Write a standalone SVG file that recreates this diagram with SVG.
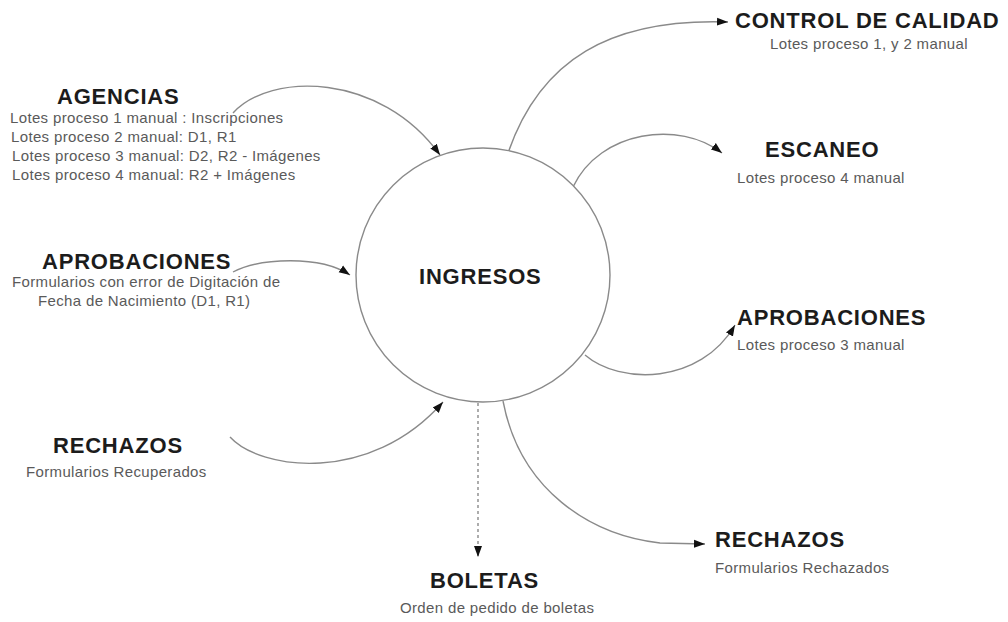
<svg xmlns="http://www.w3.org/2000/svg" width="1008" height="622" viewBox="0 0 1008 622">
  <style>
    .title { font-family: "Liberation Sans", Arial, sans-serif; font-weight: bold; font-size: 22px; letter-spacing: 0.8px; fill: #1c1c1c; }
    .sub { font-family: "Liberation Sans", Arial, sans-serif; font-size: 15px; letter-spacing: 0.35px; fill: #5a5a5a; }
    .flow { fill: none; stroke: #8a8a8a; stroke-width: 1.4; marker-end: url(#arrow); }
    .dashed { stroke-dasharray: 3 3; }
  </style>
  <defs>
    <marker id="arrow" markerUnits="userSpaceOnUse" markerWidth="12" markerHeight="10" viewBox="0 0 12 10" refX="11" refY="5" orient="auto">
      <path d="M0,1 L11,5 L0,9 Z" fill="#111"/>
    </marker>
  </defs>
  <rect width="1008" height="622" fill="#fff"/>

  <!-- connectors -->
  <g id="connectors">
    <path class="flow" d="M233,113 C270,72 380,72 440,155"/>
    <path class="flow" d="M233,272 C260,258 320,255 350,275"/>
    <path class="flow" d="M230,437 C260,470 370,485 443,402"/>
    <path class="flow" d="M508,153 C540,60 610,18 728,22"/>
    <path class="flow" d="M573,187 C600,130 680,120 722,153"/>
    <path class="flow" d="M585,355 C620,385 700,385 735,325"/>
    <path class="flow dashed" d="M478,403 L478,557"/>
    <path class="flow" d="M503,401 C520,490 590,535 660,543 L705,544"/>
  </g>

  <!-- central process -->
  <g id="ingresos">
    <circle cx="483" cy="275" r="127" fill="#fff" stroke="#8a8a8a" stroke-width="1.4"/>
    <text class="title" x="419" y="284">INGRESOS</text>
  </g>

  <g id="agencias">
    <text class="title" x="57" y="104">AGENCIAS</text>
    <text class="sub" x="10" y="123">Lotes proceso 1 manual : Inscripciones</text>
    <text class="sub" x="11" y="142">Lotes proceso 2 manual: D1, R1</text>
    <text class="sub" x="12" y="161">Lotes proceso 3 manual: D2, R2 - Imágenes</text>
    <text class="sub" x="12" y="180">Lotes proceso 4 manual: R2 + Imágenes</text>
  </g>

  <g id="aprobaciones-entrada">
    <text class="title" x="42" y="269">APROBACIONES</text>
    <text class="sub" x="12" y="287">Formularios con error de Digitación de</text>
    <text class="sub" x="38" y="306">Fecha de Nacimiento (D1, R1)</text>
  </g>

  <g id="rechazos-entrada">
    <text class="title" x="53" y="453">RECHAZOS</text>
    <text class="sub" x="26" y="477">Formularios Recuperados</text>
  </g>

  <g id="control-calidad">
    <text class="title" x="735" y="28">CONTROL DE CALIDAD</text>
    <text class="sub" x="770" y="49">Lotes proceso 1, y 2 manual</text>
  </g>

  <g id="escaneo">
    <text class="title" x="765" y="157">ESCANEO</text>
    <text class="sub" x="737" y="183">Lotes proceso 4 manual</text>
  </g>

  <g id="aprobaciones-salida">
    <text class="title" x="737" y="325">APROBACIONES</text>
    <text class="sub" x="737" y="350">Lotes proceso 3 manual</text>
  </g>

  <g id="rechazos-salida">
    <text class="title" x="715" y="547">RECHAZOS</text>
    <text class="sub" x="715" y="573">Formularios Rechazados</text>
  </g>

  <g id="boletas">
    <text class="title" x="430" y="588">BOLETAS</text>
    <text class="sub" x="400" y="613">Orden de pedido de boletas</text>
  </g>
</svg>
